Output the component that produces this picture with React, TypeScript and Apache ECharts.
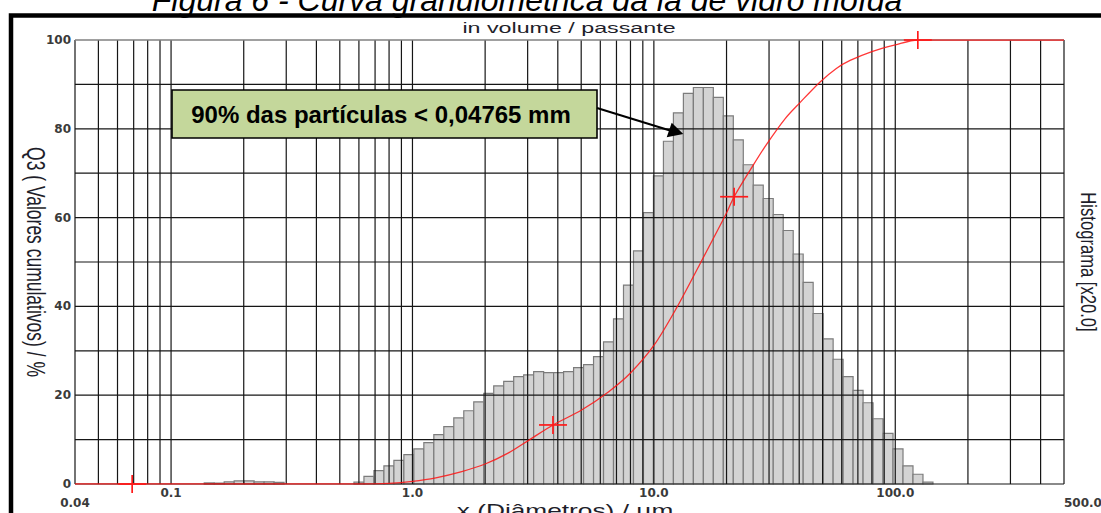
import React, { useEffect, useRef } from "react";
import * as echarts from "echarts";

// ---------- axis definitions ----------
const X_MIN = 0.04;
const X_MAX = 500;
const X_TICK_LABELS: Array<[number, string]> = [
  [0.04, "0.04"],
  [0.1, "0.1"],
  [1, "1.0"],
  [10, "10.0"],
  [100, "100.0"],
  [500, "500.0"],
];
const Y_TICK_LABELS = ["0", "20", "40", "60", "80", "100"];
const GRID_X = [
  0.04, 0.05, 0.06, 0.07, 0.08, 0.09, 0.1, 0.2, 0.3, 0.4, 0.5, 0.6, 0.7, 0.8, 0.9, 1, 2, 3, 4, 5, 6, 7, 8, 9, 10,
  20, 30, 40, 50, 60, 70, 80, 90, 100, 200, 300, 400, 500,
];
const GRID_Y = [0, 10, 20, 30, 40, 50, 60, 70, 80, 90];
const TOP_LINE = [100];

// ---------- histogram (x20) : size classes ----------
const BIN_FIRST_EDGE = 0.1372; // µm, lower edge of first class
const BIN_RATIO = 1.0999; // geometric class ratio
const HIST_HEIGHTS = [
  0.25, 0.2, 0.5, 0.7, 0.7, 0.5, 0.5, 0.35,
  0, 0, 0, 0, 0, 0, 0,
  0.4, 1.7, 3.0, 4.1, 5.3, 6.6, 7.9, 9.3, 11.1, 12.9, 14.9, 16.5, 18.5, 20.4, 22.1, 23.1, 24.2, 24.6, 25.3, 25.1,
  25.1, 25.3, 26.2, 26.9, 28.7,
  32.0, 37.2, 44.8, 52.5, 61.1, 69.4, 77.2, 83.6, 88.0, 89.3, 89.3, 87.1, 82.9, 77.5, 71.9, 67.3, 64.3, 60.7,
  57.1, 51.8, 45.4, 38.4, 32.7, 28.1, 24.2, 21.1, 18.3, 14.7, 11.4, 7.9, 4.1, 2.2, 0.4,
];

// ---------- cumulative curve Q3 ----------
const CUMULATIVE: Array<[number, number]> = [
  [0.04, 0], [0.6, 0], [0.8, 0.15], [1.0, 0.6], [1.25, 1.4], [1.6, 2.8], [2.0, 4.5], [2.5, 7.0], [3.06, 10],
  [3.82, 13.3], [5.0, 16.6], [6.5, 20.8], [8.0, 25.0], [10, 31.2], [12.4, 39.6], [15.5, 49.5], [19.9, 60.8],
  [21.5, 64.7], [25.8, 71.8], [29.3, 76.5], [35, 82.3], [40.3, 85.9], [48.7, 90.5], [57, 93.6], [65, 95.4],
  [80, 97.4], [100, 98.9], [124, 100], [500, 100],
];
const MARKERS: Array<[number, number]> = [
  [0.069, 0],
  [3.82, 13.3],
  [21.5, 64.7],
  [124, 100],
];

// ---------- texts ----------
const TITLE = "Figura 6 - Curva granulométrica da lã de vidro moída";
const SUBTITLE = "in volume / passante";
const X_NAME = "x (Diâmetros) / µm";
const Y_NAME = "Q3 ( Valores cumulativos) / %";
const Y2_NAME = "Histograma [x20.0]";
const NOTE = "90% das partículas < 0,04765 mm";

const INSTR_FONT = '"Liberation Sans", Arial, Helvetica, sans-serif';
const STRETCH = 1.46;

export default function App() {
  const ref = useRef<HTMLDivElement>(null);

  useEffect(() => {
    document.body.style.margin = "0";
    if (!ref.current) return;
    const chart = echarts.init(ref.current, null, { renderer: "svg" });

    const bins = HIST_HEIGHTS.map((h, i) => [
      BIN_FIRST_EDGE * Math.pow(BIN_RATIO, i),
      BIN_FIRST_EDGE * Math.pow(BIN_RATIO, i + 1),
      h,
    ]).filter((d) => d[2] > 0);

    const xLabel = (v: number) => {
      let best = X_TICK_LABELS[0];
      let bd = Infinity;
      for (const t of X_TICK_LABELS) {
        const d = Math.abs(Math.log10(v / t[0]));
        if (d < bd) {
          bd = d;
          best = t;
        }
      }
      if (bd > 0.02) return "";
      const isEnd = best[0] === X_MIN || best[0] === X_MAX;
      return isEnd ? "\n" + best[1] : best[1];
    };

    const option: any = {
      animation: false,
      grid: { left: 75, right: 37, top: 40, bottom: 29, outerBoundsMode: "none", containLabel: false },
      xAxis: {
        type: "log",
        logBase: 10,
        min: X_MIN,
        max: X_MAX,
        axisLine: { show: false },
        axisTick: { show: false },
        splitLine: { show: false },
        minorTick: { show: false },
        minorSplitLine: { show: false },
        axisLabel: {
          margin: 4,
          fontFamily: "DejaVu Sans",
          fontWeight: "bold",
          fontSize: 12,
          color: "#3a3a3a",
          lineHeight: 10,
          alignMaxLabel: "left",
          showMinLabel: true,
          showMaxLabel: true,
          hideOverlap: false,
          formatter: xLabel,
        },
      },
      yAxis: {
        type: "value",
        min: 0,
        max: 100,
        interval: 20,
        axisLine: { show: false },
        axisTick: { show: false },
        splitLine: { show: false },
        axisLabel: {
          margin: 4,
          fontFamily: "DejaVu Sans",
          fontWeight: "bold",
          fontSize: 12,
          color: "#3a3a3a",
          padding: [0, 0, 8, 0],
          formatter: (v: number) => Y_TICK_LABELS[Math.round(v / 20)] ?? "",
        },
      },
      series: [
        {
          type: "custom",
          name: "hist",
          z: 1,
          silent: true,
          encode: { x: [0, 1], y: 2 },
          data: bins,
          renderItem: (params: any, api: any) => {
            const p0 = api.coord([api.value(0), api.value(2)]);
            const p1 = api.coord([api.value(1), 0]);
            return {
              type: "rect",
              shape: { x: p0[0], y: p0[1], width: p1[0] - p0[0], height: p1[1] - p0[1] },
              style: { fill: "#d3d3d3", stroke: "#7c7c7c", lineWidth: 1.2 },
            };
          },
        },
        {
          type: "custom",
          name: "vgrid",
          z: 2,
          silent: true,
          encode: { x: 0, y: 1 },
          data: GRID_X.map((v) => [v, 0]),
          renderItem: (params: any, api: any) => {
            const a = api.coord([api.value(0), 0]);
            const b = api.coord([api.value(0), 100]);
            return {
              type: "line",
              shape: { x1: a[0], y1: a[1], x2: b[0], y2: b[1] },
              style: { stroke: "#161616", lineWidth: 1.2 },
            };
          },
        },
        {
          type: "custom",
          name: "hgrid",
          z: 2,
          silent: true,
          encode: { x: 0, y: 1 },
          data: GRID_Y.map((v) => [X_MIN, v]),
          renderItem: (params: any, api: any) => {
            const a = api.coord([X_MIN, api.value(1)]);
            const b = api.coord([X_MAX, api.value(1)]);
            return {
              type: "line",
              shape: { x1: a[0], y1: a[1], x2: b[0], y2: b[1] },
              style: { stroke: "#161616", lineWidth: 1.2 },
            };
          },
        },
        {
          type: "custom",
          name: "topline",
          z: 2,
          silent: true,
          encode: { x: 0, y: 1 },
          data: TOP_LINE.map((v) => [X_MIN, v]),
          renderItem: (params: any, api: any) => {
            const a = api.coord([X_MIN, api.value(1)]);
            const b = api.coord([X_MAX, api.value(1)]);
            return {
              type: "line",
              shape: { x1: a[0], y1: a[1], x2: b[0], y2: b[1] },
              style: { stroke: "#808080", lineWidth: 1.5 },
            };
          },
        },
        {
          type: "line",
          name: "Q3",
          z: 3,
          silent: true,
          data: CUMULATIVE,
          showSymbol: false,
          smooth: 0.3,
          lineStyle: { color: "rgba(255,20,20,0.85)", width: 1.3 },
        },
        {
          type: "custom",
          name: "markers",
          z: 4,
          silent: true,
          encode: { x: 0, y: 1 },
          data: MARKERS,
          renderItem: (params: any, api: any) => {
            const c = api.coord([api.value(0), api.value(1)]);
            const st = { stroke: "#ff1a1a", lineWidth: 1.7 };
            return {
              type: "group",
              children: [
                { type: "line", shape: { x1: c[0] - 14, y1: c[1], x2: c[0] + 14, y2: c[1] }, style: st },
                { type: "line", shape: { x1: c[0], y1: c[1] - 9, x2: c[0], y2: c[1] + 9 }, style: st },
              ],
            };
          },
        },
      ],
      graphic: {
        elements: [
          {
            type: "text",
            x: 527,
            y: -0.5,
            z: 100,
            style: {
              text: TITLE,
              fontFamily: INSTR_FONT,
              fontStyle: "italic",
              fontSize: 32,
              fill: "#000",
              align: "center",
              verticalAlign: "middle",
            },
          },
          {
            type: "text",
            x: 569,
            y: 28,
            scaleX: 1.5,
            z: 100,
            style: {
              text: SUBTITLE,
              fontFamily: INSTR_FONT,
              fontSize: 15.5,
              fill: "#1e1e2a",
              align: "center",
              verticalAlign: "middle",
            },
          },
          {
            type: "text",
            x: 565,
            y: 511,
            scaleX: STRETCH,
            z: 100,
            style: {
              text: X_NAME,
              fontFamily: INSTR_FONT,
              fontSize: 18,
              fill: "#1e1e2a",
              align: "center",
              verticalAlign: "middle",
            },
          },
          {
            type: "text",
            x: 36,
            y: 262,
            rotation: -Math.PI / 2,
            scaleY: STRETCH,
            z: 100,
            style: {
              text: Y_NAME,
              fontFamily: INSTR_FONT,
              fontSize: 17.5,
              fill: "#1e1e2a",
              align: "center",
              verticalAlign: "middle",
            },
          },
          {
            type: "text",
            x: 1088,
            y: 262,
            rotation: -Math.PI / 2,
            scaleY: 1.3,
            z: 100,
            style: {
              text: Y2_NAME,
              fontFamily: INSTR_FONT,
              fontSize: 16.6,
              fill: "#1e1e2a",
              align: "center",
              verticalAlign: "middle",
            },
          },
          {
            type: "rect",
            z: 100,
            shape: { x: 172, y: 90, width: 425, height: 48 },
            style: { fill: "#c4d79b", stroke: "#000", lineWidth: 1.6 },
          },
          {
            type: "text",
            x: 381,
            y: 114,
            z: 101,
            style: {
              text: NOTE,
              fontFamily: INSTR_FONT,
              fontWeight: "bold",
              fontSize: 24,
              fill: "#000",
              align: "center",
              verticalAlign: "middle",
            },
          },
          {
            type: "line",
            z: 101,
            shape: { x1: 597, y1: 108, x2: 670, y2: 130.5 },
            style: { stroke: "#000", lineWidth: 2 },
          },
          {
            type: "polygon",
            z: 101,
            shape: {
              points: [
                [683.3, 134],
                [666.7, 137.3],
                [671.7, 122.7],
              ],
            },
            style: { fill: "#000" },
          },
          {
            type: "polyline",
            z: 110,
            shape: {
              points: [
                [11, 530],
                [11, 15.4],
                [1120, 15.4],
              ],
            },
            style: { stroke: "#000", lineWidth: 4.5, fill: null },
          },
        ],
      },
    };

    chart.setOption(option);
    return () => chart.dispose();
  }, []);

  return <div ref={ref} style={{ width: 1101, height: 513 }} />;
}
